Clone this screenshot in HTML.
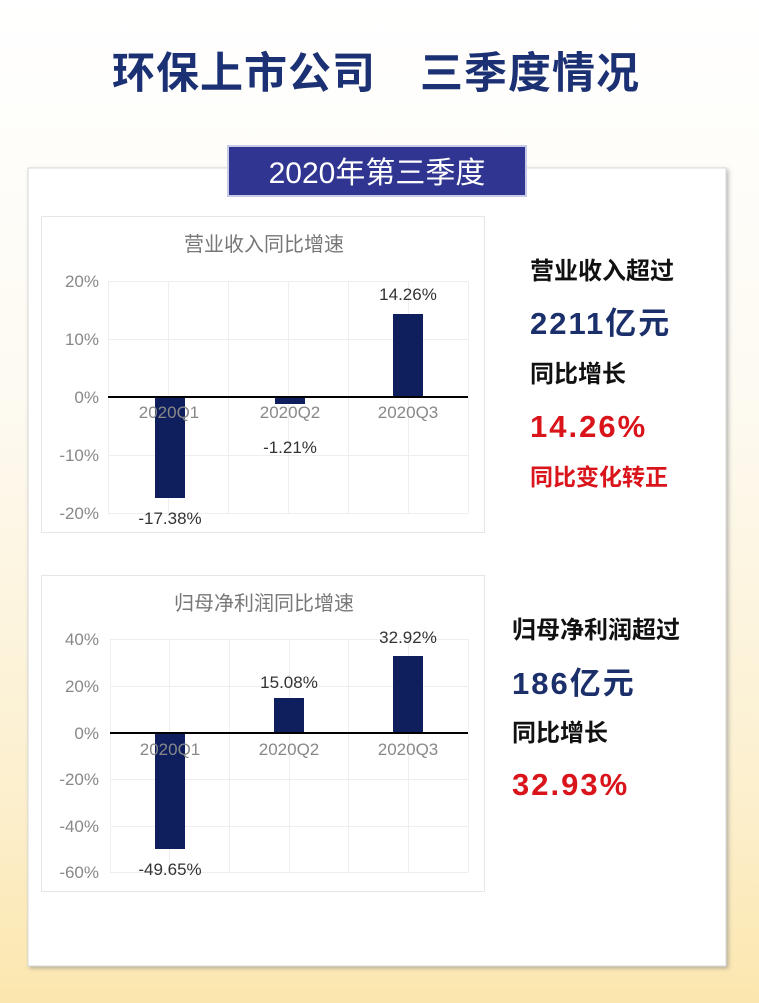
<!DOCTYPE html>
<html><head><meta charset="utf-8"><style>
html,body{margin:0;padding:0;width:759px;height:1003px;overflow:hidden}
body{background:linear-gradient(180deg,#ffffff 0%,#fdfaf1 40%,#fcefcd 80%,#fbe6ad 100%)}
svg{display:block}
text{font-family:"Liberation Sans","Noto Sans CJK SC",sans-serif}
</style></head><body>
<svg width="759" height="1003" viewBox="0 0 759 1003" xmlns="http://www.w3.org/2000/svg">
<defs><filter id="sh" x="-5%" y="-5%" width="110%" height="110%"><feDropShadow dx="2" dy="2" stdDeviation="2" flood-color="#888" flood-opacity="0.6"/></filter></defs>
<text x="376" y="88" text-anchor="middle" font-size="43" font-weight="bold" fill="#1b3173" letter-spacing="1">环保上市公司　三季度情况</text>
<rect x="28" y="168" width="698" height="798" fill="#fff" stroke="#d8d8d8" filter="url(#sh)"/>
<rect x="228" y="146" width="298" height="50" fill="#2f3590" stroke="#c8cbe8" stroke-width="2"/>
<text x="377" y="183" text-anchor="middle" font-size="30" fill="#fff">2020年第三季度</text>

<!-- chart 1 -->
<rect x="41.5" y="216.5" width="443" height="316" fill="#fff" stroke="#e6e6e6"/>
<text x="264" y="251" text-anchor="middle" font-size="20" fill="#777">营业收入同比增速</text>
<g stroke="#eee" stroke-width="1">
<line x1="108" y1="281.5" x2="468" y2="281.5"/><line x1="108" y1="339.5" x2="468" y2="339.5"/>
<line x1="108" y1="455.5" x2="468" y2="455.5"/><line x1="108" y1="513.5" x2="468" y2="513.5"/>
<line x1="108.5" y1="281" x2="108.5" y2="513"/><line x1="168.5" y1="281" x2="168.5" y2="513"/>
<line x1="228.5" y1="281" x2="228.5" y2="513"/><line x1="288.5" y1="281" x2="288.5" y2="513"/>
<line x1="348.5" y1="281" x2="348.5" y2="513"/><line x1="408.5" y1="281" x2="408.5" y2="513"/>
<line x1="468.5" y1="281" x2="468.5" y2="513"/>
</g>
<g font-size="17" fill="#888" text-anchor="end">
<text x="99" y="287">20%</text><text x="99" y="345">10%</text><text x="99" y="403">0%</text>
<text x="99" y="461">-10%</text><text x="99" y="519">-20%</text></g>
<rect x="155" y="397" width="30" height="101" fill="#0f1f5e"/>
<rect x="275" y="397" width="30" height="7" fill="#0f1f5e"/>
<rect x="393" y="314" width="30" height="83" fill="#0f1f5e"/>
<line x1="108" y1="397" x2="468" y2="397" stroke="#000" stroke-width="2"/>
<g font-size="17" fill="#888" text-anchor="middle">
<text x="169" y="418">2020Q1</text><text x="290" y="418">2020Q2</text><text x="408" y="418">2020Q3</text></g>
<g font-size="17" fill="#333" text-anchor="middle">
<text x="170" y="524">-17.38%</text><text x="290" y="453">-1.21%</text><text x="408" y="300">14.26%</text></g>

<!-- chart 2 -->
<rect x="41.5" y="575.5" width="443" height="316" fill="#fff" stroke="#e6e6e6"/>
<text x="264" y="610" text-anchor="middle" font-size="20" fill="#777">归母净利润同比增速</text>
<g stroke="#eee" stroke-width="1">
<line x1="110" y1="639.5" x2="468" y2="639.5"/><line x1="110" y1="686.5" x2="468" y2="686.5"/>
<line x1="110" y1="779.5" x2="468" y2="779.5"/><line x1="110" y1="826.5" x2="468" y2="826.5"/>
<line x1="110" y1="872.5" x2="468" y2="872.5"/>
<line x1="110.5" y1="639" x2="110.5" y2="872"/><line x1="169.5" y1="639" x2="169.5" y2="872"/>
<line x1="229.5" y1="639" x2="229.5" y2="872"/><line x1="289.5" y1="639" x2="289.5" y2="872"/>
<line x1="348.5" y1="639" x2="348.5" y2="872"/><line x1="408.5" y1="639" x2="408.5" y2="872"/>
<line x1="468.5" y1="639" x2="468.5" y2="872"/>
</g>
<g font-size="17" fill="#888" text-anchor="end">
<text x="99" y="645">40%</text><text x="99" y="692">20%</text><text x="99" y="739">0%</text>
<text x="99" y="785">-20%</text><text x="99" y="832">-40%</text><text x="99" y="878">-60%</text></g>
<rect x="155" y="733" width="30" height="116" fill="#0f1f5e"/>
<rect x="274" y="698" width="30" height="35" fill="#0f1f5e"/>
<rect x="393" y="656" width="30" height="77" fill="#0f1f5e"/>
<line x1="110" y1="733" x2="468" y2="733" stroke="#000" stroke-width="2"/>
<g font-size="17" fill="#888" text-anchor="middle">
<text x="170" y="755">2020Q1</text><text x="289" y="755">2020Q2</text><text x="408" y="755">2020Q3</text></g>
<g font-size="17" fill="#333" text-anchor="middle">
<text x="170" y="875">-49.65%</text><text x="289" y="688">15.08%</text><text x="408" y="643">32.92%</text></g>

<!-- right text -->
<g font-weight="bold">
<text x="530" y="279" font-size="24" fill="#111">营业收入超过</text>
<text x="530" y="334" font-size="31" fill="#1b2f6b" letter-spacing="2">2211亿元</text>
<text x="530" y="382" font-size="24" fill="#111">同比增长</text>
<text x="530" y="437" font-size="31" fill="#d9141b" letter-spacing="2">14.26%</text>
<text x="530" y="485" font-size="23" fill="#d9141b">同比变化转正</text>
<text x="512" y="638" font-size="24" fill="#111">归母净利润超过</text>
<text x="512" y="694" font-size="31" fill="#1b2f6b" letter-spacing="2">186亿元</text>
<text x="512" y="741" font-size="24" fill="#111">同比增长</text>
<text x="512" y="795" font-size="31" fill="#d9141b" letter-spacing="2">32.93%</text>
</g>
</svg>
</body></html>
